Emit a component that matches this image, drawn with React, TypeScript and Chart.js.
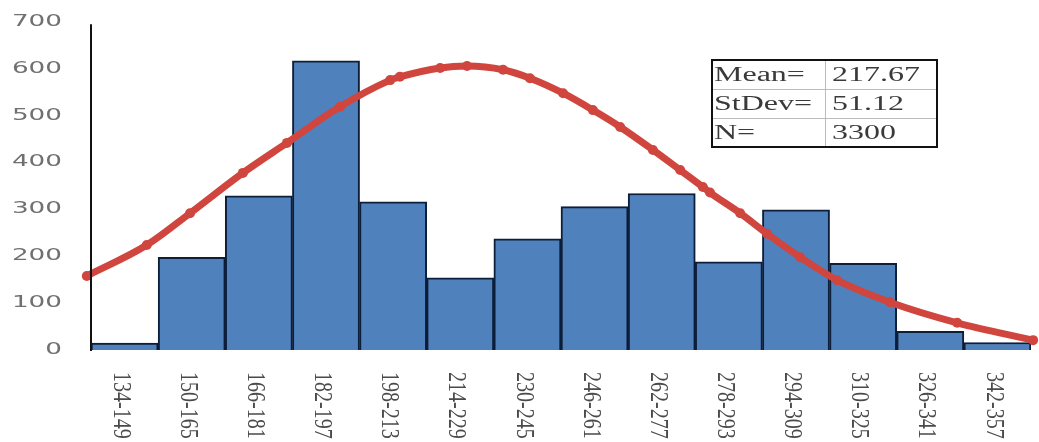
import React, { useEffect, useRef } from "react";
import { Chart, registerables } from "chart.js";

Chart.register(...registerables);

const categories = [
  "134-149", "150-165", "166-181", "182-197", "198-213", "214-229", "230-245",
  "246-261", "262-277", "278-293", "294-309", "310-325", "326-341", "342-357",
];
const counts = [15, 198, 329, 617, 316, 154, 237, 306, 334, 188, 299, 185, 40, 16];

const curveX = [
  133, 147.3, 157.6, 170.2, 180.7, 193.3, 205.3, 207.6, 217.2, 223.6, 232.2, 238.6,
  246.5, 253.6, 260.1, 267.9, 274.4, 279.8, 281.5, 288.7, 295.1, 303.0, 311.8, 324.4,
  340.4, 358.5,
];
const curveY = [
  158, 224, 292, 378, 442, 519, 576, 583, 602, 606, 598, 580,
  548, 512, 476, 427, 384, 348, 336, 292, 248, 198, 149, 102,
  58, 21,
];

const yTicks = [0, 100, 200, 300, 400, 500, 600, 700];
const statLabels = ["Mean=", "StDev=", "N="];
const statValues = ["217.67", "51.12", "3300"];

const SERIF = "'Liberation Serif', 'Times New Roman', serif";
const SX = 1.6;

const decorPlugin = {
  id: "decor",
  afterDraw(chart: any) {
    const ctx = chart.ctx as CanvasRenderingContext2D;
    const area = chart.chartArea;
    const ys = chart.scales.y;
    const xs = chart.scales.x;

    ctx.save();
    ctx.strokeStyle = "#111";
    ctx.lineWidth = 2;
    ctx.beginPath();
    ctx.moveTo(area.left, ys.getPixelForValue(695));
    ctx.lineTo(area.left, area.bottom + 1);
    ctx.stroke();
    ctx.restore();

    yTicks.forEach((v) => {
      const y = ys.getPixelForValue(v);
      ctx.save();
      ctx.translate(area.left - 29, y);
      ctx.scale(1.75, 1);
      ctx.font = "15px 'DejaVu Sans', sans-serif";
      ctx.fillStyle = "#707070";
      ctx.textAlign = "right";
      ctx.textBaseline = "middle";
      ctx.fillText(String(v), 0, 0);
      ctx.restore();
    });

    categories.forEach((c, i) => {
      const x = xs.getPixelForTick(i);
      ctx.save();
      ctx.translate(x - 4, area.bottom + 22);
      ctx.scale(1.3, 1);
      ctx.rotate(Math.PI / 2);
      ctx.font = "20px " + SERIF;
      ctx.fillStyle = "#4a4a4a";
      ctx.textAlign = "left";
      ctx.textBaseline = "middle";
      ctx.fillText(c, 0, 0);
      ctx.restore();
    });

    const bx = 712, by = 60, bw = 225, bh = 87, colX = 825;
    const rowH = bh / 3;
    ctx.save();
    ctx.fillStyle = "#fff";
    ctx.fillRect(bx, by, bw, bh);
    ctx.strokeStyle = "#bbb";
    ctx.lineWidth = 1;
    ctx.beginPath();
    ctx.moveTo(colX + 0.5, by);
    ctx.lineTo(colX + 0.5, by + bh);
    for (let r = 1; r < 3; r++) {
      ctx.moveTo(bx, Math.round(by + r * rowH) + 0.5);
      ctx.lineTo(bx + bw, Math.round(by + r * rowH) + 0.5);
    }
    ctx.stroke();
    ctx.strokeStyle = "#111";
    ctx.lineWidth = 2;
    ctx.strokeRect(bx, by, bw, bh);
    ctx.font = "20px " + SERIF;
    ctx.fillStyle = "#3a3a3a";
    ctx.textBaseline = "middle";
    ctx.textAlign = "left";
    for (let r = 0; r < 3; r++) {
      const cy = by + rowH * (r + 0.5) + 1;
      ctx.save();
      ctx.translate(bx + 2, cy);
      ctx.scale(SX, 1);
      ctx.fillText(statLabels[r], 0, 0);
      ctx.restore();
      ctx.save();
      ctx.translate(colX + 7, cy);
      ctx.scale(SX, 1);
      ctx.fillText(statValues[r], 0, 0);
      ctx.restore();
    }
    ctx.restore();
  },
};

export default function App() {
  const ref = useRef<HTMLCanvasElement | null>(null);

  useEffect(() => {
    if (!ref.current) return;
    const chart = new Chart(ref.current, {
      type: "bar",
      data: {
        labels: categories,
        datasets: [
          {
            type: "line",
            label: "Normal",
            data: curveX.map((x, i) => ({ x, y: curveY[i] })),
            xAxisID: "x2",
            yAxisID: "y",
            borderColor: "#d0463e",
            backgroundColor: "#d0463e",
            borderWidth: 7,
            pointRadius: 5,
            pointBorderWidth: 0,
            pointBackgroundColor: "#d0463e",
            cubicInterpolationMode: "monotone",
            fill: false,
            clip: false,
            order: 0,
          } as any,
          {
            type: "bar",
            label: "Count",
            data: counts,
            xAxisID: "x",
            yAxisID: "y",
            backgroundColor: "#4f81bd",
            borderColor: "#0d1e3a",
            borderWidth: 2,
            barPercentage: 1,
            categoryPercentage: 1,
            grouped: false,
            order: 1,
          } as any,
        ],
      },
      options: {
        animation: false,
        responsive: false,
        maintainAspectRatio: false,
        layout: { padding: { left: 91, right: 8, top: 22, bottom: 92 } },
        plugins: { legend: { display: false }, tooltip: { enabled: false } },
        scales: {
          x: { type: "category", display: false, offset: true },
          x2: { type: "linear", display: false, min: 134, max: 358, offset: false },
          y: { type: "linear", display: false, min: 0, max: 700 },
        },
      },
      plugins: [decorPlugin],
    });
    return () => chart.destroy();
  }, []);

  return (
    <div style={{ position: "fixed", left: 0, top: 0, width: 1039, height: 442, background: "#fff" }}>
      <canvas ref={ref} width={1039} height={442} style={{ width: 1039, height: 442 }} />
    </div>
  );
}
